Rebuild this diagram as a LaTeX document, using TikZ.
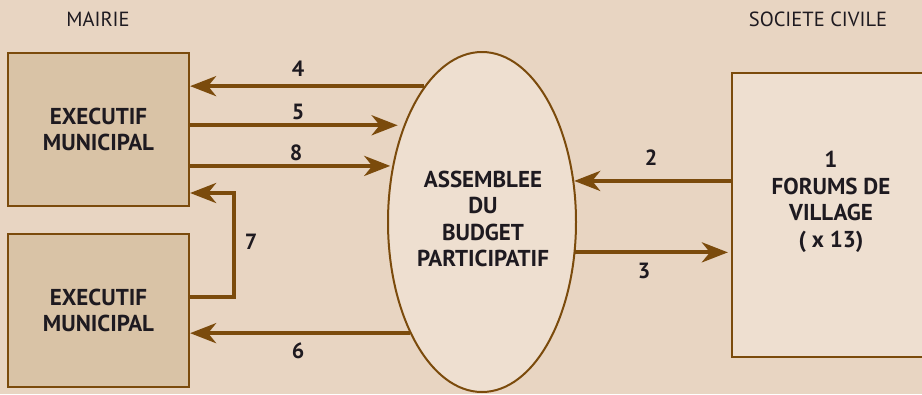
\documentclass[tikz,border=0pt]{standalone}
\usepackage{fontspec}
\setmainfont{PT Sans}
\usetikzlibrary{shapes.geometric,arrows.meta}
\definecolor{fondbeige}{HTML}{E8D5C2}
\definecolor{boitefonce}{HTML}{D9C3A6}
\definecolor{boiteclaire}{HTML}{EEDFD0}
\definecolor{brun}{HTML}{7B4B0C}
\definecolor{encre}{HTML}{1E1A20}
\tikzset{
  boite/.style={draw=brun, line width=2.2pt, align=center, text=encre,
    font=\fontsize{23}{26.5}\selectfont\bfseries},
  fleche/.style={draw=brun, line width=4pt,
    -{Stealth[length=26pt,width=20pt,inset=8pt]}},
  numero/.style={text=encre, font=\fontsize{22}{24}\selectfont\bfseries},
  titre/.style={text=encre, font=\fontsize{20.5}{24}\selectfont},
}
\begin{document}
\begin{tikzpicture}[x=1pt,y=1pt,yscale=-1]
\fill[fondbeige] (0,0) rectangle (922,394);
\useasboundingbox (0,0) rectangle (922,394);
% titres
\node[titre] (mairie) at (98,19) {MAIRIE};
\node[titre] (societe) at (818,19) {SOCIETE CIVILE};
% boites
\node[boite, fill=boitefonce, minimum width=181pt, minimum height=153pt] (exec1) at (98.5,129.5) {EXECUTIF\\MUNICIPAL};
\node[boite, fill=boitefonce, minimum width=181pt, minimum height=153pt] (exec2) at (98.5,310.5) {EXECUTIF\\MUNICIPAL};
\node[boite, fill=boiteclaire, line width=2pt, ellipse, inner sep=0pt, minimum width=188pt, minimum height=340pt] (assemblee) at (482,222) {};
\node[boite, draw=none] (assembleetxt) at (483,219) {ASSEMBLEE\\DU\\BUDGET\\PARTICIPATIF};
\node[boite, fill=boiteclaire, minimum width=198pt, minimum height=284pt] (forums) at (831,215) {};
\node[boite, draw=none] (forumstxt) at (831,202) {1\\FORUMS DE\\VILLAGE\\( x 13)};
% fleches
\draw[fleche] (assemblee.113) -- (exec1.east |- assemblee.113);
\draw[fleche, shorten >=6pt] (exec1.east |- assemblee.129.4) -- (assemblee.129.4);
\draw[fleche, shorten >=2pt] (exec1.east |- assemblee.148.8) -- (assemblee.148.8);
\draw[fleche] (assemblee.237) -- (exec2.east |- assemblee.237);
\draw[fleche] (forums.west |- assemblee.24.8) -- (assemblee.24.8);
\draw[fleche, shorten >=3pt] (assemblee.342.6) -- (forums.west |- assemblee.342.6);
\coordinate (coude7a) at (234,297);
\coordinate (coude7b) at (234,193);
\draw[fleche] (exec2.east |- coude7a) -- (coude7a) -- (coude7b) -- (exec1.east |- coude7b);
% numeros
\node[numero] (n4) at (298,69) {4};
\node[numero] (n5) at (298,112) {5};
\node[numero] (n8) at (296,153) {8};
\node[numero] (n7) at (251,242) {7};
\node[numero] (n6) at (298,351) {6};
\node[numero] (n2) at (651,158) {2};
\node[numero] (n3) at (644,271) {3};
\end{tikzpicture}
\end{document}
